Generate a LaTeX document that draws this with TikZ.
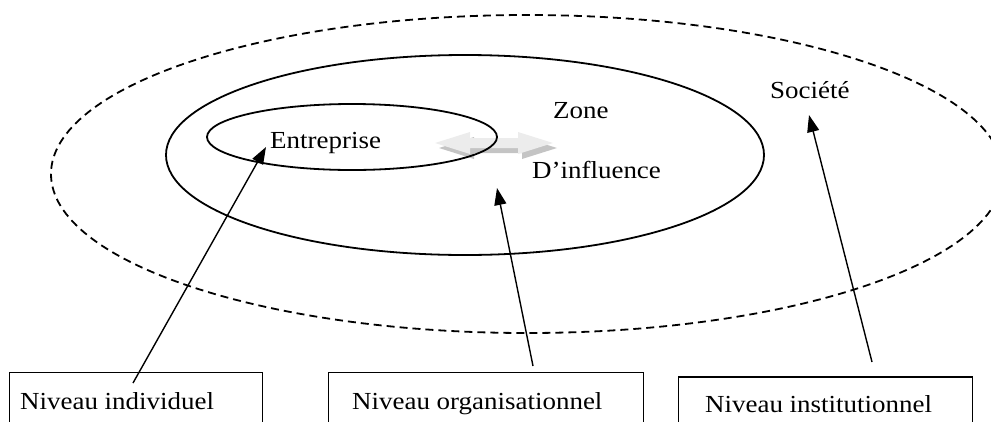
\documentclass[tikz,border=0pt]{standalone}
\usepackage{fontspec}
\setmainfont{Liberation Serif}[FakeStretch=1.1]
\usetikzlibrary{arrows.meta}
\definecolor{arrowlight}{HTML}{ECECEC}
\definecolor{arrowshade}{HTML}{C4C4C4}
\begin{document}
\begin{tikzpicture}[x=1pt,y=-1pt,
  ring/.style={line width=1.8pt},
  outerring/.style={line width=1.8pt,dash pattern=on 8pt off 5pt},
  lbl/.style={anchor=base west,inner sep=0pt,font=\fontsize{24.5}{28}\selectfont},
  levelbox/.style={draw,line width=1.3pt,anchor=north west,minimum height=90pt,inner sep=0pt},
  pointer/.style={line width=1.4pt,-{Triangle[length=17pt,width=12pt]}}]
\clip (0,0) rectangle (991,421);
% two-way arrow of the influence zone, with its shadow
\fill[arrowshade] (439,148) -- (474,137) -- (474,143) -- (522,143) -- (522,137) -- (557,148)
  -- (522,159) -- (522,153) -- (474,153) -- (474,159) -- cycle;
\fill[arrowlight] (435,143) -- (470,132) -- (470,138) -- (518,138) -- (518,132) -- (553,143)
  -- (518,154) -- (518,148) -- (470,148) -- (470,154) -- cycle;
% nested spheres
\draw[outerring] (527,174) ellipse [x radius=476, y radius=159];
\draw[ring] (465,155) ellipse [x radius=299, y radius=100];
\draw[ring] (352,137) ellipse [x radius=145, y radius=33];
% labels inside the spheres
\node[lbl] (ent) at (270,148) {Entreprise};
\node[lbl] (zone) at (553,118) {Zone};
\node[lbl] (infl) at (532,178) {D’influence};
\node[lbl] (soc) at (770,98) {Société};
% level boxes
\node[levelbox,minimum width=253pt] (b1) at (9,372) {};
\node[levelbox,minimum width=315pt] (b2) at (328,372) {};
\node[levelbox,minimum width=294pt] (b3) at (678,377) {};
\draw[line width=2.2pt] (b3.north west) -- (b3.north east);
\node[lbl] (t1) at (20,409) {Niveau individuel};
\node[lbl] (t2) at (352,409) {Niveau organisationnel};
\node[lbl] (t3) at (705,412) {Niveau institutionnel};
% pointers from the levels to the spheres
\coordinate (s1) at (133,383);
\coordinate (s2) at (533,366);
\coordinate (s3) at (872,362);
\coordinate (e1) at (266,147);
\coordinate (e2) at (497,188);
\coordinate (e3) at (809,115);
\draw[pointer] (s1) -- (e1);
\draw[pointer] (s2) -- (e2);
\draw[pointer] (s3) -- (e3);
\end{tikzpicture}
\end{document}
